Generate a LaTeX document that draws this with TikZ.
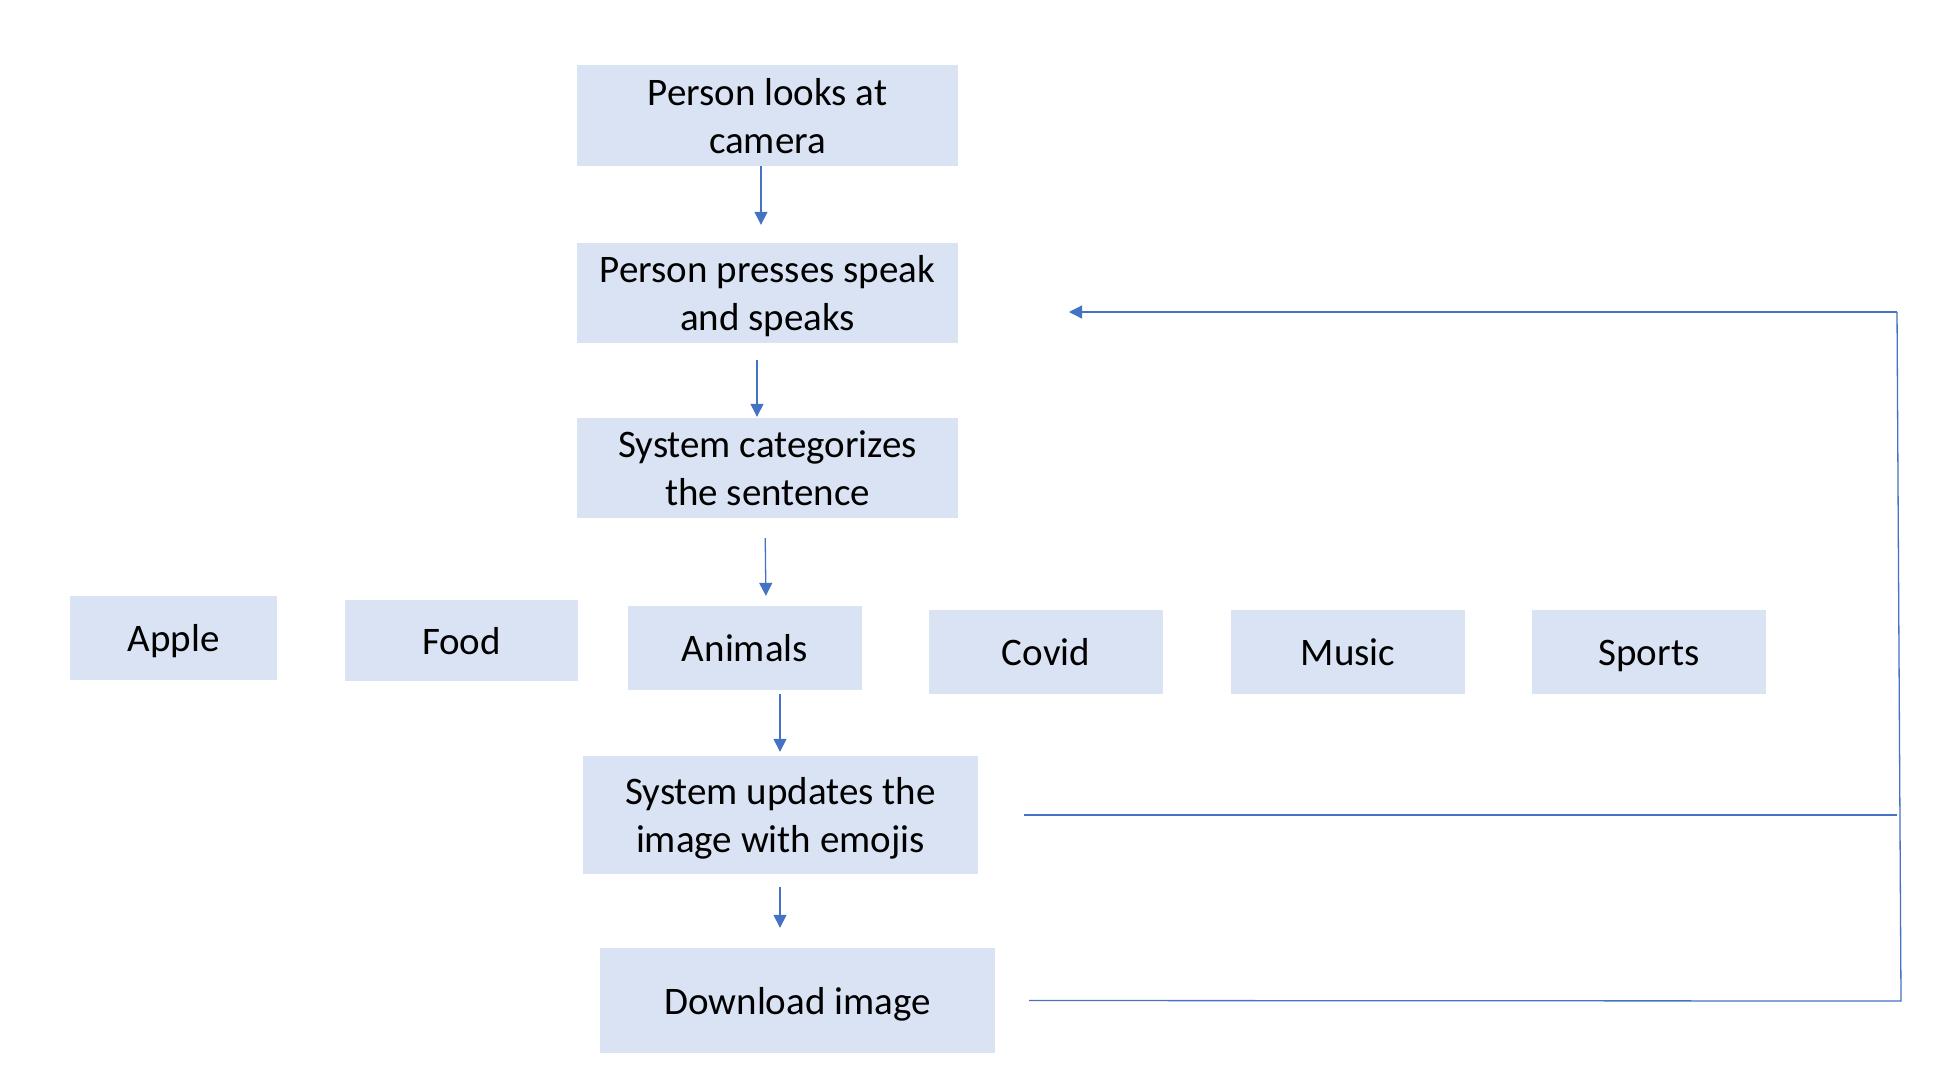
\documentclass[tikz,border=0pt]{standalone}
\usepackage{fontspec}
\setmainfont{Carlito}
\usetikzlibrary{arrows.meta}
\definecolor{boxfill}{HTML}{DAE3F3}
\definecolor{linec}{HTML}{4472C4}
\begin{document}
\begin{tikzpicture}[x=1pt,y=-1pt,
  box/.style={fill=boxfill, draw=none, inner sep=0pt, align=center,
    text height=36pt, text depth=9pt,
    font=\fontsize{39}{47.6}\selectfont, text=black},
  twoline/.style={text height=84pt, text depth=9pt},
  arr/.style={draw=linec, line width=1.3pt, -{Triangle[length=13pt,width=13pt]}},
  fb/.style={draw=linec, line width=1.3pt}]
\useasboundingbox (0,0) rectangle (1958,1080);

\node[box, twoline, minimum width=381pt, minimum height=101pt] (b1) at (767.5,115.5) {Person looks at\\camera};
\node[box, twoline, minimum width=381pt, minimum height=100pt] (b2) at (767.5,293) {Person presses speak\\and speaks};
\node[box, twoline, minimum width=381pt, minimum height=100pt] (b3) at (767.5,468) {System categorizes\\the sentence};

\node[box, minimum width=207pt, minimum height=84pt] (apple) at (173.5,638) {Apple};
\node[box, minimum width=233pt, minimum height=81pt] (food) at (461.5,640.5) {Food};
\node[box, minimum width=234pt, minimum height=84pt] (animals) at (745,648) {Animals};
\node[box, minimum width=234pt, minimum height=84pt] (covid) at (1046,652) {Covid};
\node[box, minimum width=234pt, minimum height=84pt] (music) at (1348,652) {Music};
\node[box, minimum width=234pt, minimum height=84pt] (sports) at (1649,652) {Sports};

\node[box, twoline, minimum width=395pt, minimum height=118pt] (upd) at (780.5,815) {System updates the\\image with emojis};
\node[box, minimum width=395pt, minimum height=105pt] (dl) at (797.5,1000.5) {Download image};

% vertical arrows
\draw[arr, shorten >=18pt] ([xshift=-6.5pt]b1.south) -- ([xshift=-6.5pt]b2.north);
\draw[arr, shorten <=17pt, shorten >=1pt] ([xshift=-10.5pt]b2.south) -- ([xshift=-10.5pt]b3.north);
\draw[arr, shorten <=20pt, shorten >=10pt] ([xshift=-2.5pt]b3.south) -- ([xshift=21pt]animals.north);
\draw[arr, shorten <=4pt, shorten >=4pt] ([xshift=35pt]animals.south) -- ([xshift=-0.5pt]upd.north);
\draw[arr, shorten <=13pt, shorten >=20pt] ([xshift=-0.5pt]upd.south) -- ([xshift=-17.5pt]dl.north);

% feedback lines
\coordinate (m1) at (1897,815);
\coordinate (c1) at (1901,1001);
\coordinate (c2) at (1897,312);
\coordinate (tipend) at (1069,312);
\draw[fb] ([xshift=46pt]upd.east) -- (m1);
\draw[fb] ([xshift=34pt]dl.east) -- (c1) -- (c2);
\draw[arr] (c2) -- (tipend);
\end{tikzpicture}
\end{document}
